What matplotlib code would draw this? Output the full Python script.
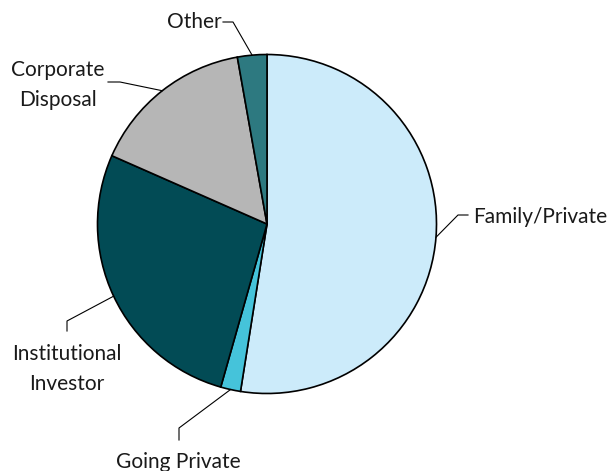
import numpy as np
import matplotlib.pyplot as plt

plt.rcParams['font.family'] = ['Lato', 'DejaVu Sans']

labels = ['Family/Private', 'Going Private', 'Institutional\nInvestor',
          'Corporate\nDisposal', 'Other']
shares = [52.5, 1.9, 27.2, 15.6, 2.8]
colors = ['#CCEBFA', '#45C3DA', '#024B55', '#B6B6B6', '#2D7980']

# label anchor, elbow point of the leader line, end of the short straight part
label_pos = [(473, 217), (178, 462), (67, 369), (58, 85), (194, 22)]
elbows = [(458, 215), (179, 428), (67, 321), (120, 82), (233, 22)]
tails = [(468, 215), (179, 440), (67, 331), (108, 82), (223, 22)]
aligns = ['left', 'center', 'center', 'center', 'center']

cx, cy, r = 267, 224, 169.5

fig = plt.figure(figsize=(6.12, 4.71), dpi=100)
ax = fig.add_axes([0, 0, 1, 1])

wedges, _ = ax.pie(shares, colors=colors, startangle=-90, counterclock=True,
                   center=(cx, cy), radius=r,
                   wedgeprops=dict(edgecolor='black', linewidth=1.2))
ax.set_xlim(0, 612)
ax.set_ylim(471, 0)
ax.set_aspect('equal')
ax.axis('off')

for w, lab, lp, el, tl, ha in zip(wedges, labels, label_pos, elbows, tails, aligns):
    mid = np.deg2rad((w.theta1 + w.theta2) / 2)
    ex, ey = cx + r * np.cos(mid), cy + r * np.sin(mid)
    ax.plot([ex, el[0], tl[0]], [ey, el[1], tl[1]], color='black', lw=0.8)
    ax.text(lp[0], lp[1], lab, ha=ha, va='center', fontsize=15,
            linespacing=1.68, color='#1a1a1a')

fig.savefig('out.png', dpi=100)
